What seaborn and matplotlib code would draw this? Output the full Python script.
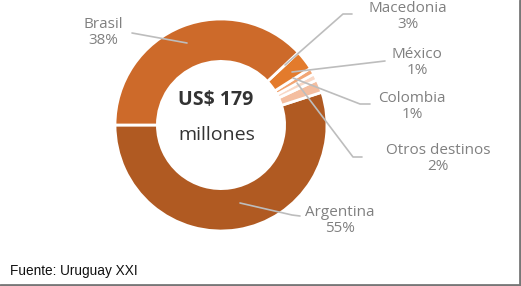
import matplotlib
matplotlib.use("Agg")
import matplotlib.pyplot as plt
from matplotlib.lines import Line2D
import seaborn as sns

categories = ["Argentina", "Otros destinos", "Colombia", "México", "Macedonia", "Brasil"]
shares = [55, 2, 1, 1, 3, 38]
pct_labels = ["55%", "2%", "1%", "1%", "3%", "38%"]
colors = ["#B05A22", "#F4BEA0", "#F9D8C6", "#F2A675", "#E37B2C", "#CD6A2A"]
center_title = "US$ 179"
center_sub = "millones"
source = "Fuente: Uruguay XXI"

sns.set_theme(style="white")
plt.rcParams["font.family"] = ["Open Sans", "DejaVu Sans"]

W, H = 521, 286
fig = plt.figure(figsize=(W / 100, H / 100), dpi=100)
fig.patch.set_facecolor("white")
ax = fig.add_axes([0, 0, 1, 1])

cx, cy, R = 221, H - 125, 106
ax.pie(shares, colors=colors, startangle=180, counterclock=True,
       center=(cx, cy), radius=R,
       wedgeprops=dict(width=R * 0.4, edgecolor="white", linewidth=2))
ax.set_xlim(0, W)
ax.set_ylim(0, H)
ax.set_aspect("equal")
ax.axis("off")

# centre text
ax.text(cx - 5, H - 100, center_title, ha="center", va="center",
        fontsize=14, fontweight="bold", color="#333333")
ax.text(cx - 4, H - 135, center_sub, ha="center", va="center",
        fontsize=14, color="#333333")

grey = "#808080"
line_c = "#bdbdbd"
# label positions (pixel coords from top) and leader paths
label_info = {
    "Brasil": ((103, 24), [(132, 33), (187, 43)]),
    "Macedonia": ((408, 8), [(285, 65), (343, 14), (352, 14)]),
    "México": ((417, 54), [(292, 72), (385, 61)]),
    "Colombia": ((412, 98), [(293, 78), (360, 104), (370, 104)]),
    "Otros destinos": ((438, 150), [(297, 83), (353, 157), (362, 157)]),
    "Argentina": ((340, 212), [(240, 203), (292, 215), (300, 216)]),
}
for name, pct in zip(categories, pct_labels):
    (tx, ty), path = label_info[name]
    ax.text(tx, H - ty, name, ha="center", va="center", fontsize=11, color=grey)
    ax.text(tx, H - ty - 16, pct, ha="center", va="center", fontsize=11, color=grey)
    xs = [p[0] for p in path]
    ys = [H - p[1] for p in path]
    ax.plot(xs, ys, color=line_c, lw=1.2, solid_capstyle="round")

fig.text(10 / W, 1 - 271 / H, source, ha="left", va="center", fontsize=9.8,
         color="#111111", family=["Liberation Sans", "DejaVu Sans"])

# frame on right and bottom
fig.add_artist(Line2D([0, 1], [1 / H, 1 / H], transform=fig.transFigure, color="#777777", lw=2))
fig.add_artist(Line2D([1 - 1 / W, 1 - 1 / W], [0, 1], transform=fig.transFigure, color="#777777", lw=2))

fig.savefig("out.png", dpi=100, facecolor="white")
